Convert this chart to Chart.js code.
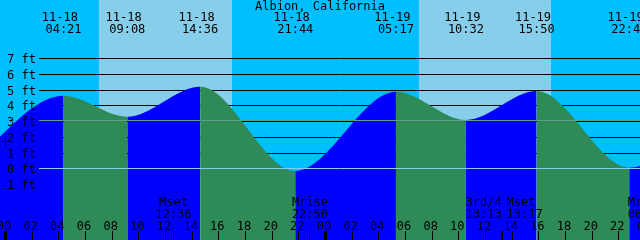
<!DOCTYPE html>
<html>
<head>
<meta charset="utf-8">
<script src="https://cdn.jsdelivr.net/npm/chart.js@4"></script>
<style>
  html, body { margin: 0; padding: 0; background: #00bfff; }
  canvas { display: block; }
</style>
</head>
<body>
<canvas id="tide-chart" width="640" height="240"></canvas>
<script>
const station = "Albion, California";

// high / low tides (MM-DD HH:MM) and heights in feet
const tideTimes = [
  "11-17 20:55", "11-18 04:21", "11-18 09:08", "11-18 14:36", "11-18 21:44",
  "11-19 05:17", "11-19 10:32", "11-19 15:50", "11-19 22:47", "11-20 06:08"
];
const tideHeights = [0.0, 4.64, 3.31, 5.21, -0.13, 4.89, 3.10, 4.93, 0.08, 4.9];

const sunrise = ["11-18 07:01", "11-19 07:02"];
const sunset = ["11-18 16:59", "11-19 16:55"];

const moonTimes = ["11-18 12:36", "11-18 22:50", "11-19 13:13", "11-19 13:17", "11-20 00:01"];
const moonEvents = ["Mset", "Mrise", "3rd/4", "Mset", "Mrise"];
const moonAlign = ["center", "center", "right", "left", "center"];

const markerTime = ["11-18 00:00"];
const markerLevel = [1.72];

const footTicks = [-1, 0, 1, 2, 3, 4, 5, 6, 7];
const gridFeet = [1, 2, 3, 4, 5, 6, 7];
const hourTicks = [0, 2, 4, 6, 8, 10, 12, 14, 16, 18, 20, 22, 24, 26, 28, 30, 32, 34, 36, 38, 40, 42, 44, 46, 48];
const mslLevel = 3.08;

const NIGHT = "#00bfff";
const DAY = "#87ceeb";
const FLOOD = "#0000ff";
const EBB = "#2e8b57";
const DATUM = "#87cefa";
const MSL = "#5f9e8f";
const FONT = "12px 'DejaVu Sans Mono', monospace";
const GUTTER = 39;

function toHours(stamp) {
  const [date, time] = stamp.split(" ");
  const day = Number(date.split("-")[1]);
  const [hh, mm] = time.split(":").map(Number);
  return (day - 18) * 24 + hh + mm / 60;
}

function rowOf(scale, v) {
  return Math.round(scale.getPixelForValue(v) - 0.5) + 0.5;
}

function hline(ctx, y, v, color, x0, x1) {
  ctx.strokeStyle = color;
  ctx.lineWidth = 1;
  ctx.beginPath();
  ctx.moveTo(x0, rowOf(y, v));
  ctx.lineTo(x1, rowOf(y, v));
  ctx.stroke();
}

const decor = {
  id: "decor",

  beforeDraw(chart) {
    const { ctx, scales: { x } } = chart;
    ctx.save();
    ctx.fillStyle = NIGHT;
    ctx.fillRect(0, 0, chart.width, chart.height);
    ctx.fillStyle = DAY;
    sunrise.forEach(function(s, i) {
      const x0 = Math.round(x.getPixelForValue(toHours(s)));
      const x1 = Math.round(x.getPixelForValue(toHours(sunset[i])));
      ctx.fillRect(x0, 0, x1 - x0, chart.height);
    });
    ctx.restore();
  },

  beforeDatasetsDraw(chart) {
    const { ctx, scales: { y } } = chart;
    ctx.save();
    gridFeet.forEach(function(v) {
      hline(ctx, y, v, "#000", GUTTER, chart.width);
    });
    ctx.restore();
  },

  afterDatasetsDraw(chart) {
    const { ctx, scales: { x, y } } = chart;
    const W = chart.width;
    ctx.save();

    hline(ctx, y, mslLevel, MSL, GUTTER, W);
    hline(ctx, y, 0, DATUM, GUTTER, W);

    ctx.fillStyle = "#000";
    ctx.font = FONT;
    ctx.textBaseline = "alphabetic";

    // height labels
    ctx.textAlign = "right";
    footTicks.forEach(function(v) {
      ctx.fillText(v + " ft", 36, rowOf(y, v) + 4);
    });

    // title
    ctx.textAlign = "center";
    ctx.fillText(station, W / 2, 10);

    // high / low labels
    tideTimes.forEach(function(t) {
      const h = toHours(t);
      if (h < x.min || h > x.max) return;
      const px = x.getPixelForValue(h);
      const [date, time] = t.split(" ");
      ctx.fillText(date + " ", px, 21);
      ctx.fillText(time, px, 33);
    });

    // hour labels and ticks
    hourTicks.forEach(function(h) {
      const px = x.getPixelForValue(h);
      const label = String(h % 24).padStart(2, "0");
      ctx.textAlign = "center";
      ctx.fillText(label, px - 1.5, 230);
      if (h % 24 === 0) {
        ctx.fillRect(Math.floor(px) - 1, 231, 3, 9);
      } else {
        ctx.fillRect(Math.floor(px), 231, 1, 9);
      }
    });

    // moon events
    moonTimes.forEach(function(t, i) {
      const px = x.getPixelForValue(toHours(t));
      const align = moonAlign[i];
      const ax = align === "left" ? px + 4 : px;
      ctx.textAlign = align;
      ctx.fillText(moonEvents[i], ax, 206);
      ctx.fillText(t.split(" ")[1], ax, 218);
      ctx.fillRect(Math.floor(px), 231, 1, 9);
    });

    // "now" marker
    markerTime.forEach(function(t, i) {
      const px = Math.floor(x.getPixelForValue(toHours(t))) + 0.5;
      const py = rowOf(y, markerLevel[i]);
      ctx.strokeStyle = "#000";
      ctx.lineWidth = 1;
      ctx.beginPath();
      ctx.moveTo(px - 5, py);
      ctx.lineTo(px + 5, py);
      ctx.moveTo(px, py - 5);
      ctx.lineTo(px, py + 5);
      ctx.stroke();
    });

    ctx.restore();
  }
};

const tidePoints = tideTimes.map(function(t, i) {
  return { x: toHours(t), y: tideHeights[i] };
});

new Chart(document.getElementById("tide-chart"), {
  type: "line",
  data: {
    datasets: [
      {
        data: tidePoints,
        fill: "start",
        cubicInterpolationMode: "monotone",
        borderWidth: 0,
        borderColor: "rgba(0,0,0,0)",
        backgroundColor: EBB,
        pointRadius: 0,
        pointHoverRadius: 0,
        segment: {
          backgroundColor: function(c) {
            return c.p1.parsed.y > c.p0.parsed.y ? FLOOD : EBB;
          }
        }
      }
    ]
  },
  options: {
    responsive: false,
    devicePixelRatio: 1,
    animation: false,
    layout: { padding: 0, autoPadding: false },
    plugins: {
      legend: { display: false },
      tooltip: { enabled: false }
    },
    scales: {
      x: {
        type: "linear",
        min: -0.4125,
        max: 47.5875,
        display: false
      },
      y: {
        min: -4.5,
        max: 10.7,
        display: false
      }
    }
  },
  plugins: [decor]
});
</script>
</body>
</html>
